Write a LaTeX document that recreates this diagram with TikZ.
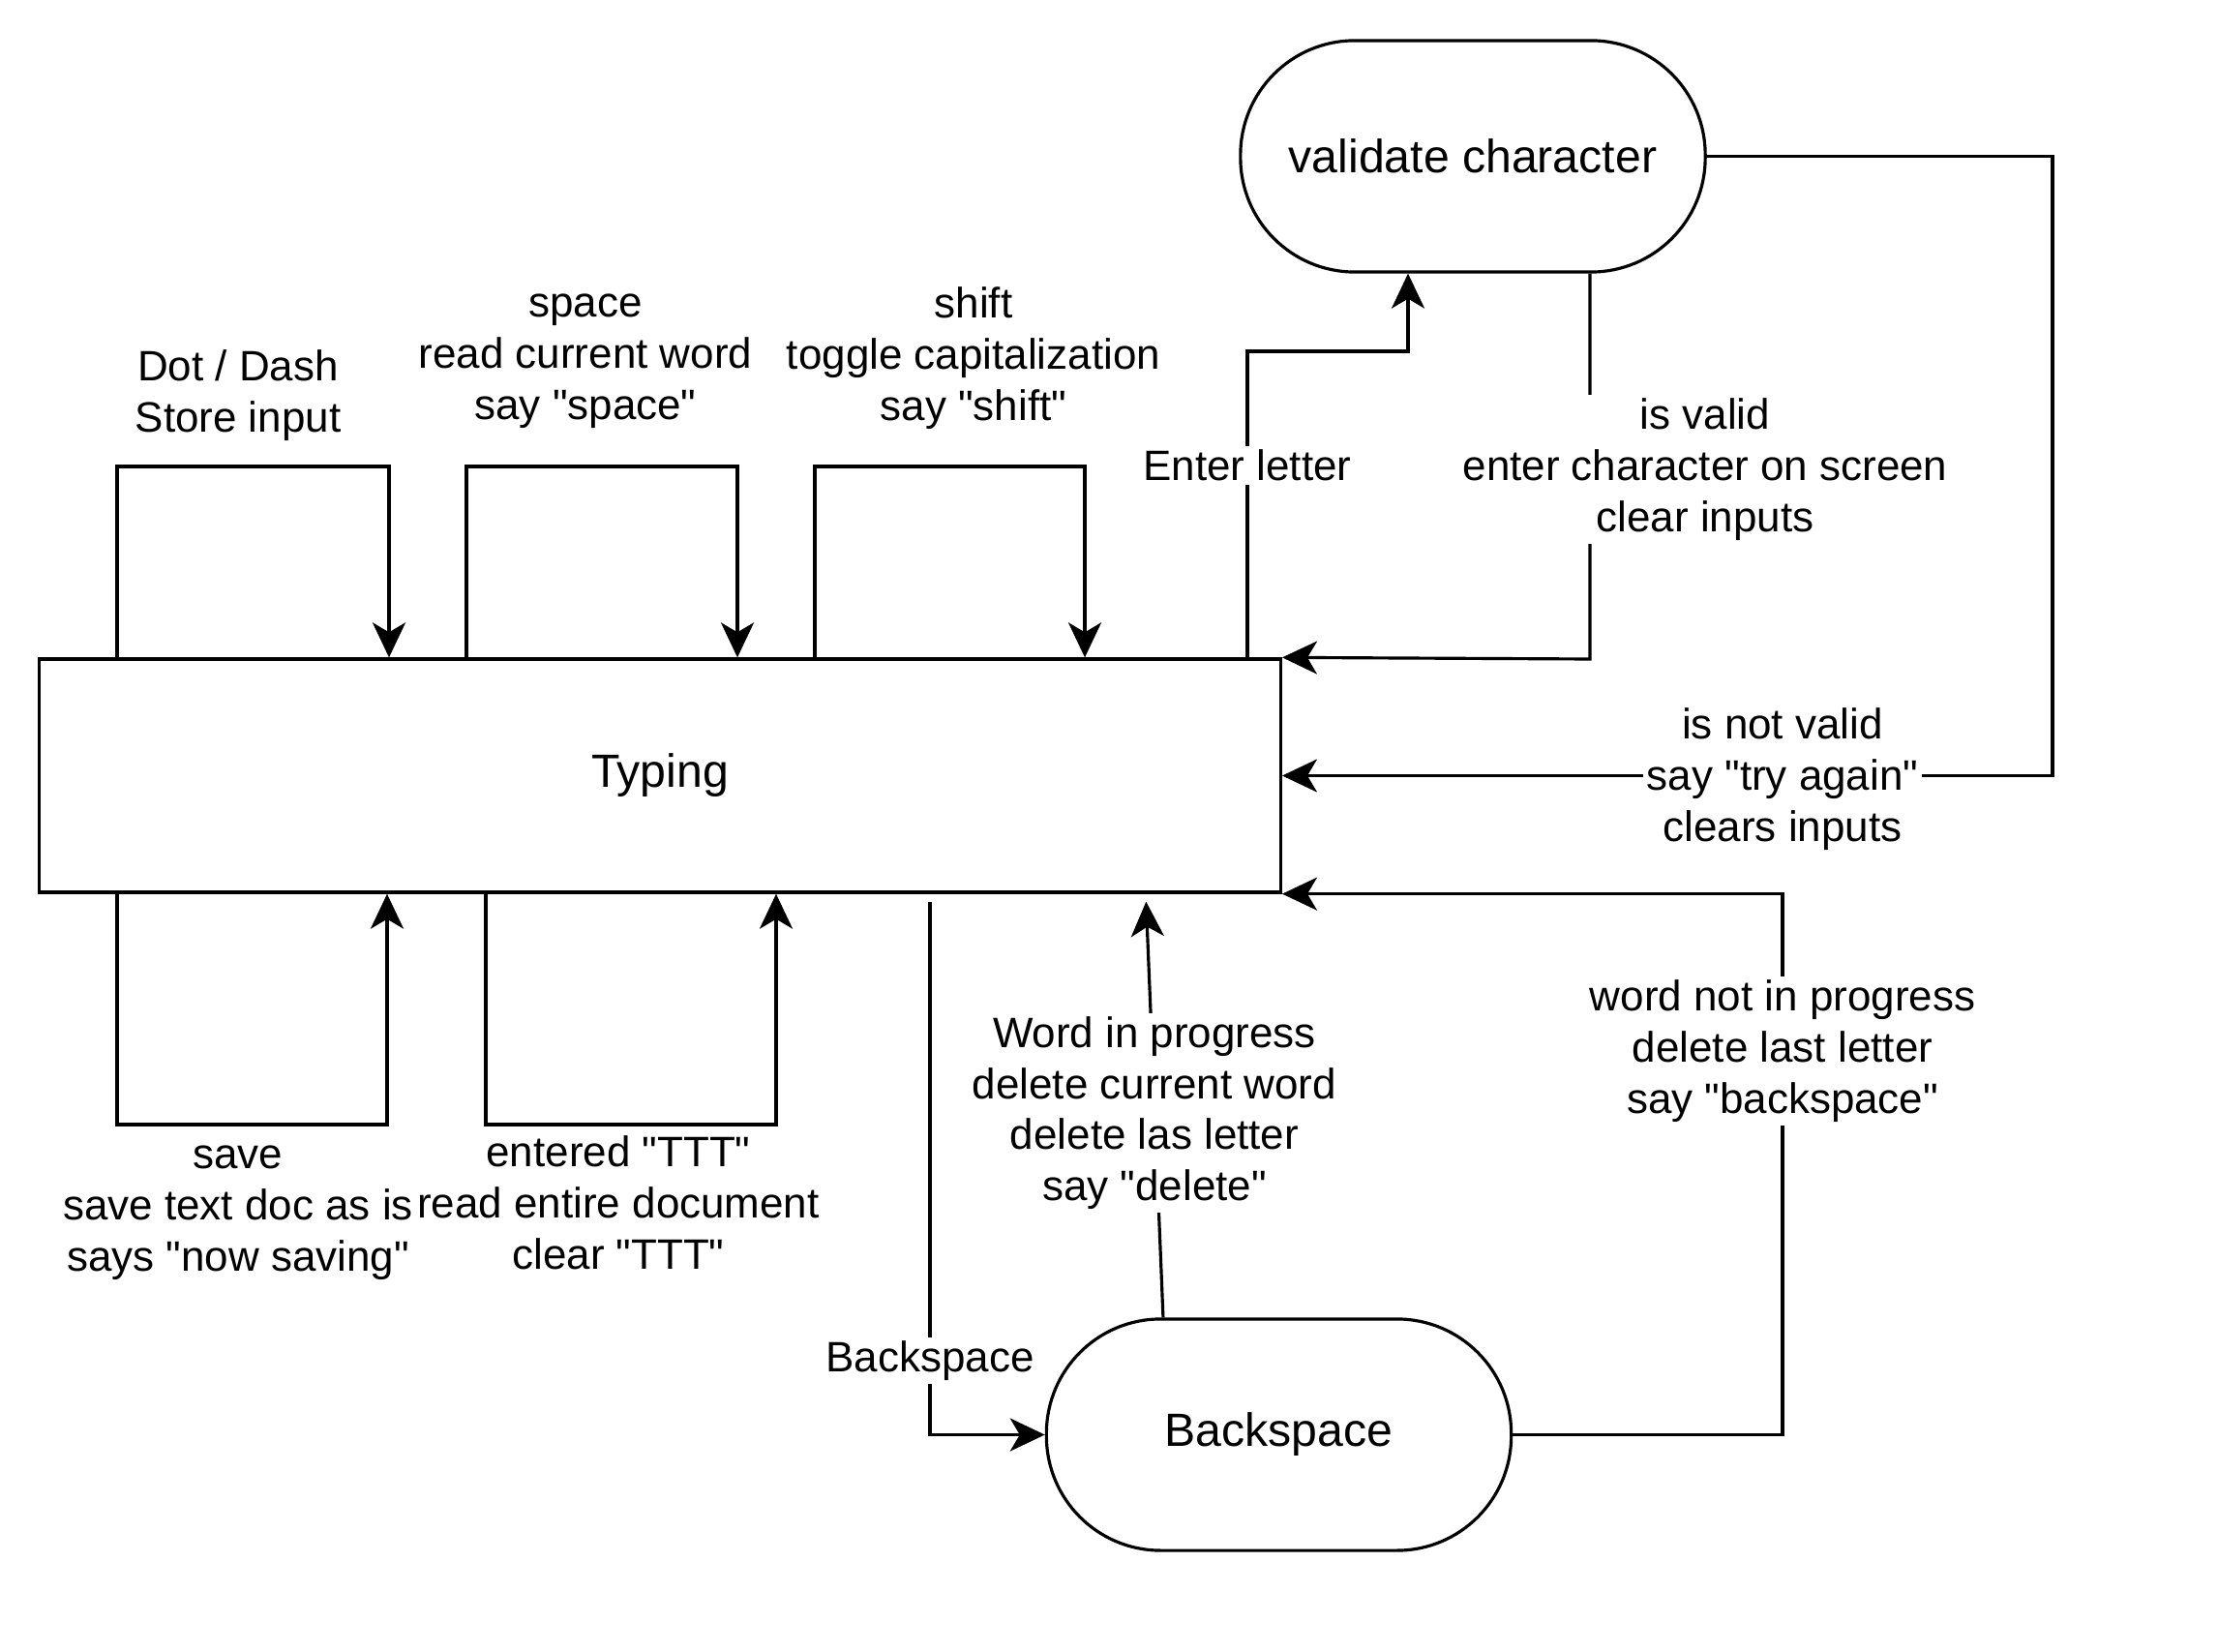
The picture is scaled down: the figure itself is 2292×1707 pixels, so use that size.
\documentclass[tikz,border=0pt]{standalone}
\usepackage{fontspec}
\setmainfont{Liberation Sans}[Ligatures=TeXOff]
\usetikzlibrary{arrows.meta,positioning}

\begin{document}
\begin{tikzpicture}[x=0.01cm,y=-0.01cm,line width=0.9pt,
  every node/.style={font=\fontsize{12.5}{15}\selectfont,align=center},
  state/.style={draw,rectangle,minimum width=12.82cm,minimum height=2.41cm,font=\fontsize{13.7}{16}\selectfont},
  term/.style={draw,rectangle,rounded corners=1.18cm,minimum width=4.8cm,minimum height=2.39cm,font=\fontsize{13.7}{16}\selectfont},
  lbl/.style={fill=white,inner sep=1pt},
  arr/.style={-{Stealth[length=0.36cm,width=0.34cm,inset=0.1cm]}}]
\useasboundingbox (0,0) rectangle (2292,1707);

\node[state] (typ) at (682,801.5) {Typing};
\node[term] (val) at (1522,161.5) {validate character};
\node[term] (bsp) at (1321.5,1482.5) {Backspace};

% loops above Typing
\coordinate (dd1) at (121,482);
\coordinate (dd2) at (402,482);
\coordinate (sp1) at (482,482);
\coordinate (sp2) at (762,482);
\coordinate (sh1) at (842,482);
\coordinate (sh2) at (1121,482);
\draw[arr] (typ.north -| dd1) -- (dd1) -- (dd2) -- (typ.north -| dd2);
\draw[arr] (typ.north -| sp1) -- (sp1) -- (sp2) -- (typ.north -| sp2);
\draw[arr] (typ.north -| sh1) -- (sh1) -- (sh2) -- (typ.north -| sh2);
\node (ldot) at (246,409) {Dot / Dash\\Store input};
\node (lspace) at (605,373) {space\\read current word\\say "space"};
\node (lshift) at (1006,370) {shift\\toggle capitalization\\say "shift"};

% to and from validate character
\coordinate (en1) at (1289,363);
\coordinate (en2) at (1455,363);
\draw[arr] (typ.north -| en1) -- (en1) -- (en2) -- (val.south -| en2);
\node[lbl] (lenter) at (1289,481) {Enter letter};
\coordinate (iv) at (1643,681);
\draw[arr] (val.south -| iv) -- (iv) -- (typ.north east);
\node[lbl] (lvalid) at (1762,485) {is valid\\enter character on screen\\clear inputs};
\coordinate (nv) at (2121,161.5);
\draw[arr] (val.east) -- (nv) |- (typ.east);
\node[lbl] (lnvalid) at (1842,805) {is not valid\\say "try again"\\clears inputs};

% loops below Typing
\coordinate (sv1) at (121,1162);
\coordinate (sv2) at (400,1162);
\coordinate (tt1) at (502,1162);
\coordinate (tt2) at (802,1162);
\draw[arr] (typ.south -| sv1) -- (sv1) -- (sv2) -- (typ.south -| sv2);
\draw[arr] (typ.south -| tt1) -- (tt1) -- (tt2) -- (typ.south -| tt2);
\node (lsave) at (246,1253) {save\\save text doc as is\\says "now saving"};
\node (lttt) at (639,1243) {entered "TTT"\\read entire document\\clear "TTT"};

% to and from Backspace
\coordinate (bk) at (961,1482);
\draw[arr,shorten <=0.08cm] (typ.south -| bk) |- (bsp.west);
\node[lbl] (lbk) at (961,1406) {Backspace};
\coordinate (wp) at (1184,922);
\draw[arr,shorten >=0.08cm] ([xshift=-1.195cm]bsp.north) -- (typ.south -| wp);
\node[lbl] (lwp) at (1193,1150) {Word in progress\\delete current word\\delete las letter\\say "delete"};
\coordinate (wn) at (1842,1482.5);
\draw[arr] (bsp.east) -- (wn) |- (typ.south east);
\node[lbl] (lwn) at (1842,1086) {word not in progress\\delete last letter\\say "backspace"};
\end{tikzpicture}
\end{document}
